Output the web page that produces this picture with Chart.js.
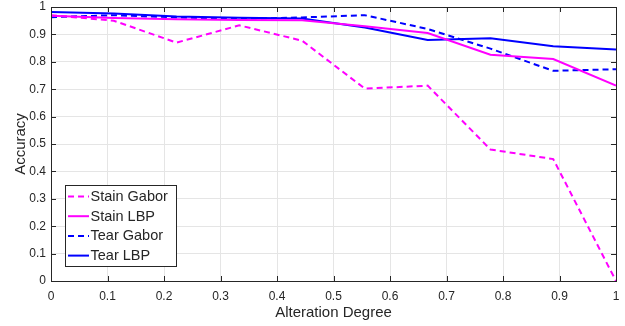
<!DOCTYPE html>
<html>
<head>
<meta charset="utf-8">
<script src="https://cdn.jsdelivr.net/npm/chart.js@4.4.1/dist/chart.umd.min.js"></script>
<style>
  html, body { margin: 0; padding: 0; background: #fff; }
  #wrap { width: 625px; height: 326px; }
</style>
</head>
<body>
<div id="wrap"><canvas id="chart" width="625" height="326"></canvas></div>
<script>
// alteration degrees, 10 steps from 0 to 1
const degrees = [0, 1/9, 2/9, 3/9, 4/9, 5/9, 6/9, 7/9, 8/9, 1];

const stainGabor = [0.970, 0.950, 0.870, 0.933, 0.877, 0.702, 0.713, 0.480, 0.445, 0.000];
const stainLBP   = [0.968, 0.960, 0.955, 0.953, 0.952, 0.930, 0.905, 0.826, 0.810, 0.713];
const tearGabor  = [0.963, 0.970, 0.962, 0.956, 0.962, 0.970, 0.920, 0.848, 0.767, 0.773];
const tearLBP    = [0.982, 0.976, 0.965, 0.961, 0.958, 0.925, 0.880, 0.886, 0.857, 0.845];

const xTicks = [0, 0.1, 0.2, 0.3, 0.4, 0.5, 0.6, 0.7, 0.8, 0.9, 1];
const yTicks = [0, 0.1, 0.2, 0.3, 0.4, 0.5, 0.6, 0.7, 0.8, 0.9, 1];

const axisColor = '#262626';
const fontFamily = '"Liberation Sans", Arial, Helvetica, sans-serif';

function toPoints(ys) {
    return degrees.map((x, i) => ({ x: x, y: ys[i] }));
}

function series(label, ys, color, dashed) {
    return {
        label: label,
        data: toPoints(ys),
        borderColor: color,
        backgroundColor: color,
        borderWidth: 2,
        borderDash: dashed ? [6, 4] : [],
        pointRadius: 0,
        tension: 0,
        fill: false
    };
}

// box around the plot with inward ticks, like matlab axes
const boxPlugin = {
    id: 'box',
    afterDatasetsDraw(chart) {
        const ctx = chart.ctx;
        const a = chart.chartArea;
        const xs = chart.scales.x, ys = chart.scales.y;
        const len = 5;
        ctx.save();
        ctx.strokeStyle = axisColor;
        ctx.lineWidth = 1;
        ctx.beginPath();
        xTicks.forEach(v => {
            const px = Math.round(xs.getPixelForValue(v)) + 0.5;
            ctx.moveTo(px, a.bottom); ctx.lineTo(px, a.bottom - len);
            ctx.moveTo(px, a.top); ctx.lineTo(px, a.top + len);
        });
        yTicks.forEach(v => {
            const py = Math.round(ys.getPixelForValue(v)) + 0.5;
            ctx.moveTo(a.left, py); ctx.lineTo(a.left + len, py);
            ctx.moveTo(a.right, py); ctx.lineTo(a.right - len, py);
        });
        ctx.stroke();
        ctx.strokeRect(Math.round(a.left) + 0.5, Math.round(a.top) + 0.5,
            Math.round(a.right - a.left), Math.round(a.bottom - a.top));
        ctx.restore();
    }
};

// legend box inside the axes, lower left
const legendPlugin = {
    id: 'boxLegend',
    afterDraw(chart) {
        const ctx = chart.ctx;
        const left = 65.5, top = 185.5, w = 111, h = 81;
        const rowH = 19.7;
        ctx.save();
        ctx.fillStyle = '#fff';
        ctx.fillRect(left, top, w, h);
        ctx.strokeStyle = axisColor;
        ctx.lineWidth = 1;
        ctx.strokeRect(left, top, w, h);
        ctx.font = '14.5px ' + fontFamily;
        ctx.textBaseline = 'middle';
        chart.data.datasets.forEach((ds, i) => {
            const y = top + 11 + i * rowH;
            ctx.strokeStyle = ds.borderColor;
            ctx.lineWidth = 2;
            ctx.setLineDash(ds.borderDash);
            ctx.beginPath();
            ctx.moveTo(68, y);
            ctx.lineTo(89, y);
            ctx.stroke();
            ctx.setLineDash([]);
            ctx.fillStyle = axisColor;
            ctx.fillText(ds.label, 90.5, y + 0.5);
        });
        ctx.restore();
    }
};

new Chart(document.getElementById('chart').getContext('2d'), {
    type: 'line',
    data: {
        datasets: [
            series('Stain Gabor', stainGabor, '#ff00ff', true),
            series('Stain LBP', stainLBP, '#ff00ff', false),
            series('Tear Gabor', tearGabor, '#0000ff', true),
            series('Tear LBP', tearLBP, '#0000ff', false)
        ]
    },
    options: {
        responsive: false,
        animation: false,
        devicePixelRatio: 1,
        layout: { padding: { top: 7, right: 9, left: 0, bottom: 0 } },
        plugins: {
            legend: { display: false },
            tooltip: { enabled: false }
        },
        scales: {
            x: {
                type: 'linear',
                min: 0, max: 1,
                afterFit(scale) {
                    scale.height = 45;
                    scale.paddingLeft = 0;
                    scale.paddingRight = 0;
                },
                afterBuildTicks(scale) { scale.ticks = xTicks.map(v => ({ value: v })); },
                grid: { color: '#e5e5e5', drawTicks: false },
                border: { display: false },
                ticks: {
                    padding: 8,
                    color: axisColor,
                    font: { family: fontFamily, size: 12 },
                    maxRotation: 0,
                    callback: v => String(+v.toFixed(1))
                },
                title: {
                    display: true,
                    text: 'Alteration Degree',
                    color: axisColor,
                    font: { family: fontFamily, size: 15 },
                    padding: { top: 0, bottom: 4 }
                }
            },
            y: {
                min: 0, max: 1,
                afterFit(scale) {
                    scale.width = 51;
                    scale.paddingTop = 0;
                    scale.paddingBottom = 0;
                },
                afterBuildTicks(scale) { scale.ticks = yTicks.map(v => ({ value: v })); },
                grid: { color: '#e5e5e5', drawTicks: false },
                border: { display: false },
                ticks: {
                    padding: 5,
                    color: axisColor,
                    font: { family: fontFamily, size: 12 },
                    callback: v => String(+v.toFixed(1))
                },
                title: {
                    display: true,
                    text: 'Accuracy',
                    color: axisColor,
                    font: { family: fontFamily, size: 15 },
                    padding: { top: 12, bottom: 0 }
                }
            }
        }
    },
    plugins: [boxPlugin, legendPlugin]
});
</script>
</body>
</html>
